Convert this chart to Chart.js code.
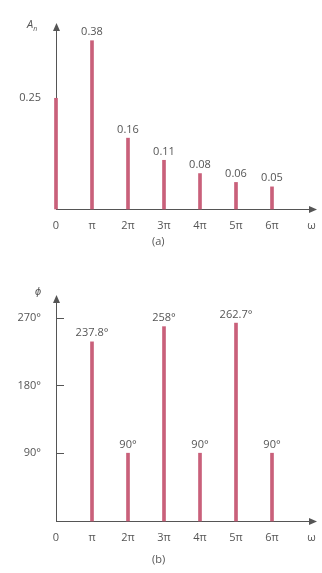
<!DOCTYPE html>
<html>
<head>
<meta charset="utf-8">
<script src="https://cdn.jsdelivr.net/npm/chart.js@4/dist/chart.umd.min.js"></script>
<style>
  body { margin: 0; background: #fff; width: 322px; height: 573px; position: relative; overflow: hidden; font-family: "Open Sans", sans-serif; color: #555; }
  .box { position: absolute; left: 0; width: 322px; }
  .lbl { position: absolute; font-size: 11px; color: #555; }
  sub { font-size: 7px; }
</style>
</head>
<body>
<div class="box" style="top:0;height:250px"><canvas id="ampChart"></canvas></div>
<div class="box" style="top:280px;height:293px"><canvas id="phaseChart"></canvas></div>
<div class="lbl" style="left:27px;top:16px;font-style:italic">A<sub>n</sub></div>
<div class="lbl" style="left:152px;top:233px">(a)</div>
<div class="lbl" style="left:35px;top:283px;font-style:italic">ϕ</div>
<div class="lbl" style="left:152px;top:551px">(b)</div>
<script>
// harmonic positions (multiples of pi) and tick labels
const xTickPos = [0, 1, 2, 3, 4, 5, 6, 7.1];
const xTickLabels = ['0', 'π', '2π', '3π', '4π', '5π', '6π', 'ω'];

// amplitude spectrum
const ampX = [0, 1, 2, 3, 4, 5, 6];
const ampValues = [0.25, 0.38, 0.16, 0.11, 0.08, 0.06, 0.05];
const ampLabels = ['', '0.38', '0.16', '0.11', '0.08', '0.06', '0.05'];
const ampYTicks = [0.25];

// phase spectrum
const phaseX = [1, 2, 3, 4, 5, 6];
const phaseValues = [237.8, 90, 258, 90, 262.7, 90];
const phaseLabels = ['237.8°', '90°', '258°', '90°', '262.7°', '90°'];
const phaseYTicks = [90, 180, 270];

const barColor = '#c9607a';
const axisColor = '#555';
const font = { family: 'Open Sans', size: 11 };

// axes with arrow heads and inner ticks go under the bars, value labels on top
const spectrumPlugin = {
  id: 'spectrum',
  beforeDatasetsDraw(chart, args, opts) {
    const ctx = chart.ctx;
    const a = chart.chartArea;
    const y = chart.scales.y;
    ctx.save();
    ctx.strokeStyle = axisColor;
    ctx.fillStyle = axisColor;
    ctx.lineWidth = 1;
    ctx.beginPath();
    ctx.moveTo(a.left, a.bottom + 0.5);
    ctx.lineTo(a.right - 6, a.bottom + 0.5);
    ctx.moveTo(a.left + 0.5, a.bottom);
    ctx.lineTo(a.left + 0.5, a.top + 6);
    ctx.stroke();
    // arrow heads
    ctx.beginPath();
    ctx.moveTo(a.right, a.bottom + 0.5);
    ctx.lineTo(a.right - 8, a.bottom - 3);
    ctx.lineTo(a.right - 8, a.bottom + 4);
    ctx.closePath();
    ctx.fill();
    ctx.beginPath();
    ctx.moveTo(a.left + 0.5, a.top);
    ctx.lineTo(a.left - 3, a.top + 8);
    ctx.lineTo(a.left + 4, a.top + 8);
    ctx.closePath();
    ctx.fill();
    if (opts.innerTicks) {
      ctx.beginPath();
      y.ticks.forEach(t => {
        const py = Math.round(y.getPixelForValue(t.value)) + 0.5;
        ctx.moveTo(a.left, py);
        ctx.lineTo(a.left + 8, py);
      });
      ctx.stroke();
    }
    ctx.restore();
  },
  afterDatasetsDraw(chart, args, opts) {
    const ctx = chart.ctx;
    ctx.save();
    ctx.fillStyle = '#555';
    ctx.font = '11px "Open Sans"';
    ctx.textAlign = 'center';
    ctx.textBaseline = 'bottom';
    const meta = chart.getDatasetMeta(0);
    meta.data.forEach((bar, i) => {
      const txt = opts.labels[i];
      if (txt) ctx.fillText(txt, bar.x, bar.y - 3);
    });
    ctx.restore();
  }
};

function makeChart(id, xs, values, labels, yTicks, yMax, yFmt, layout, innerTicks, axisH) {
  return new Chart(document.getElementById(id), {
    type: 'bar',
    data: {
      datasets: [{
        data: xs.map((x, i) => ({ x: x, y: values[i] })),
        backgroundColor: barColor,
        barThickness: 3,
        clip: false
      }]
    },
    plugins: [spectrumPlugin],
    options: {
      responsive: true,
      maintainAspectRatio: false,
      animation: false,
      layout: { padding: layout },
      plugins: {
        legend: { display: false },
        tooltip: { enabled: false },
        spectrum: { labels: labels, innerTicks: innerTicks }
      },
      scales: {
        x: {
          type: 'linear',
          offset: false,
          min: 0,
          max: 7.25,
          grid: { display: false, offset: false },
          border: { display: false },
          afterBuildTicks: s => { s.ticks = xTickPos.map(v => ({ value: v })); },
          afterFit: s => { s.height = axisH; },
          ticks: {
            autoSkip: false,
            maxRotation: 0,
            padding: 2,
            color: '#555',
            font: font,
            callback: (v, i) => xTickLabels[i]
          }
        },
        y: {
          min: 0,
          max: yMax,
          grid: { display: false },
          border: { display: false },
          afterBuildTicks: s => { s.ticks = yTicks.map(v => ({ value: v })); },
          afterFit: s => { s.width = 56; },
          ticks: {
            padding: 7,
            color: '#555',
            font: font,
            callback: v => yFmt(v)
          }
        }
      }
    }
  });
}

makeChart('ampChart', ampX, ampValues, ampLabels, ampYTicks, 0.42,
  v => v.toFixed(2), { top: 23, right: 5, left: 0, bottom: 0 }, false, 41);
makeChart('phaseChart', phaseX, phaseValues, phaseLabels, phaseYTicks, 300,
  v => v + '°', { top: 15, right: 5, left: 0, bottom: 0 }, true, 52);
</script>
</body>
</html>
